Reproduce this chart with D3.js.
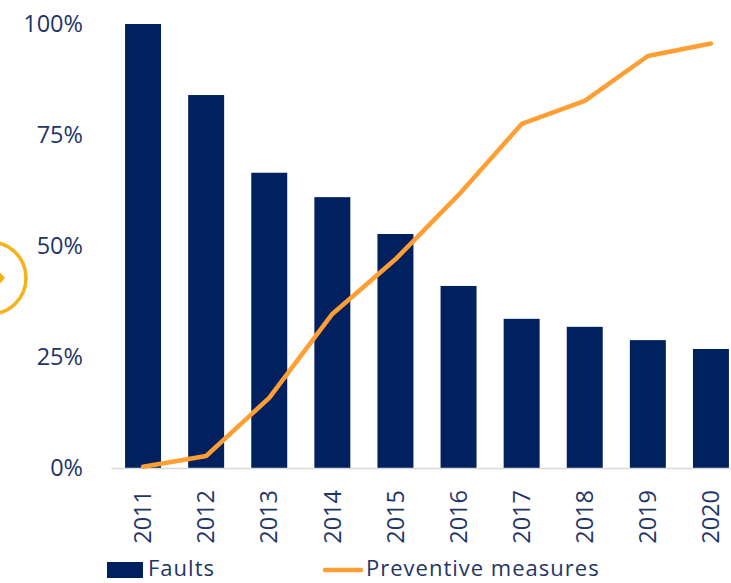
<!DOCTYPE html>
<html><head><meta charset="utf-8">
<script src="https://cdn.jsdelivr.net/npm/d3@7"></script>
<style>body{margin:0;background:#fff}svg{display:block}</style>
</head><body>
<script>
const years = ["2011","2012","2013","2014","2015","2016","2017","2018","2019","2020"];
const faults = [100, 84, 66.5, 61, 52.7, 41, 33.6, 31.8, 28.8, 26.8];
const preventive = [0.3, 2.7, 15.8, 34.7, 47, 61.5, 77.5, 82.7, 92.8, 95.6];
const yTicks = [0, 25, 50, 75, 100];
const seriesNames = ["Faults", "Preventive measures"];

const W = 731, H = 583;
const navy = "#002060", orange = "#FF9F33", textCol = "#1F3566";
const font = "'Open Sans', 'Noto Sans', sans-serif";
const fs = "23.5px";
const legendFs = "22px";

const svg = d3.select("body").append("svg").attr("width", W).attr("height", H);

const x = d3.scaleBand().domain(years).range([111.5, 742.5]).paddingInner(0.43).paddingOuter(0.215);
const y = d3.scaleLinear().domain([0, 100]).range([468, 24]);

// decorative circle at left
svg.append("circle").attr("cx", -10).attr("cy", 278).attr("r", 36)
  .attr("fill", "none").attr("stroke", "#F5B21A").attr("stroke-width", 3.5);
svg.append("path").attr("d", "M-2,270 L5,278 L-2,286 Z").attr("fill", "#F5B21A");

// y axis labels
const yAxis = d3.axisLeft(y).tickValues(yTicks).tickFormat(d => d + "%").tickSize(0).tickPadding(0);
const gy = svg.append("g").attr("transform", "translate(83,0)").call(yAxis);
gy.select(".domain").remove();
gy.selectAll("text").attr("fill", textCol).style("font-family", font).style("font-size", fs);

// bars
svg.append("g").selectAll("rect").data(years).join("rect")
  .attr("x", d => x(d)).attr("width", x.bandwidth())
  .attr("y", (d, i) => y(faults[i])).attr("height", (d, i) => y(0) - y(faults[i]))
  .attr("fill", navy);

// baseline
svg.append("line").attr("x1", 111.5).attr("x2", W).attr("y1", y(0) + 0.5).attr("y2", y(0) + 0.5)
  .attr("stroke", "#d9d9d9").attr("stroke-width", 1.5);

// line
const line = d3.line().x((d, i) => x(years[i]) + x.bandwidth() / 2).y(d => y(d));
svg.append("path").datum(preventive).attr("d", line)
  .attr("fill", "none").attr("stroke", orange).attr("stroke-width", 4.5)
  .attr("stroke-linejoin", "round").attr("stroke-linecap", "round");

// x axis labels
const xAxis = d3.axisBottom(x).tickSize(0).tickPadding(0);
const gx = svg.append("g").attr("transform", `translate(0,${y(0)})`).call(xAxis);
gx.select(".domain").remove();
gx.selectAll("text")
  .attr("transform", "rotate(-90)")
  .attr("x", -22).attr("y", 0).attr("dy", "0.35em")
  .attr("text-anchor", "end")
  .attr("fill", textCol).style("font-family", font).style("font-size", fs);

// legend
const lg = svg.append("g");
lg.append("rect").attr("x", 107).attr("y", 562).attr("width", 36).attr("height", 16).attr("fill", navy);
lg.append("text").attr("x", 148).attr("y", 576).text(seriesNames[0])
  .attr("fill", textCol).style("font-family", font).style("font-size", legendFs).style("letter-spacing", "1px");
lg.append("line").attr("x1", 325).attr("x2", 361).attr("y1", 570).attr("y2", 570)
  .attr("stroke", orange).attr("stroke-width", 4.5).attr("stroke-linecap", "round");
lg.append("text").attr("x", 366).attr("y", 576).text(seriesNames[1])
  .attr("fill", textCol).style("font-family", font).style("font-size", legendFs).style("letter-spacing", "1px");
</script>
</body></html>
